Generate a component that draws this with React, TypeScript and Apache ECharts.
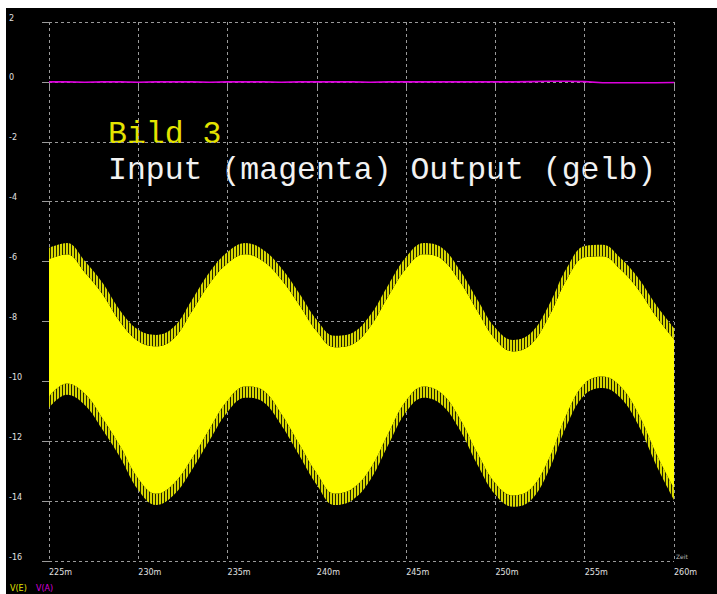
import React, { useEffect, useRef } from "react";
import * as echarts from "echarts";

// time in ms
const timeMs = [225, 226, 227, 228, 229, 230, 231, 232, 233, 234, 235, 236, 237, 238, 239, 240, 241, 242, 243, 244, 245, 246, 247, 248, 249, 250, 251, 252, 253, 254, 255, 256, 257, 258, 259, 260];
// Output (gelb): upper envelope of the fast oscillation
const outputUpper = [-5.54, -5.38, -5.98, -6.71, -7.65, -8.28, -8.45, -8.18, -7.28, -6.35, -5.68, -5.38, -5.61, -6.21, -7.05, -7.95, -8.48, -8.38, -7.78, -6.78, -5.85, -5.38, -5.54, -6.28, -7.28, -8.22, -8.62, -8.38, -7.45, -6.21, -5.48, -5.44, -5.88, -6.55, -7.45, -8.22];
// Output (gelb): lower envelope of the fast oscillation
const outputLower = [-10.89, -10.45, -10.79, -11.62, -12.56, -13.63, -14.13, -13.79, -12.96, -11.96, -11.02, -10.55, -10.69, -11.46, -12.46, -13.46, -14.13, -13.96, -13.29, -12.12, -11.02, -10.55, -10.79, -11.62, -12.79, -13.79, -14.19, -13.96, -12.96, -11.46, -10.45, -10.22, -10.55, -11.46, -12.79, -13.96];
// Input (magenta)
const inputV = [0, 0, -0.01, 0, 0, -0.01, 0, 0, 0, -0.01, 0, 0, 0, -0.01, 0, 0, 0, 0, -0.01, 0, 0, 0, 0, 0, 0, 0, 0, 0.01, 0.02, 0.02, 0.01, -0.03, -0.03, -0.03, -0.03, -0.02];

const yTicks = { min: -16, max: 2, interval: 2 };
const xTicks = { min: 225, max: 260, interval: 5 };

const HATCH = 0.38;

export default function App() {
  const ref = useRef<HTMLDivElement>(null);
  useEffect(() => {
    if (!ref.current) return;
    const chart = echarts.init(ref.current, null, { renderer: "svg" });

    const cv = document.createElement("canvas");
    cv.width = 3;
    cv.height = 1;
    const ctx = cv.getContext("2d")!;
    ctx.fillStyle = "#d8d800";
    ctx.fillRect(0, 0, 2, 1);
    ctx.fillStyle = "#222200";
    ctx.fillRect(2, 0, 1, 1);
    const hatch: any = { image: cv, repeat: "repeat", imageWidth: 3, imageHeight: 1 };

    // value first, time second (so the stack is computed on the value dimension)
    const base = timeMs.map((t, i) => [outputLower[i], t]);
    const lowHatch = timeMs.map((t) => [HATCH, t]);
    const body = timeMs.map((t, i) => [outputUpper[i] - outputLower[i] - 2 * HATCH, t]);
    const upHatch = timeMs.map((t) => [HATCH, t]);
    const input = timeMs.map((t, i) => [t, inputV[i]]);

    const common = {
      type: "line",
      stack: "out",
      stackStrategy: "all",
      encode: { x: 1, y: 0 },
      symbol: "none",
      smooth: 0.4,
      silent: true,
    };

    const gridColor = "#9a9a9a";
    const option: any = {
      animation: false,
      backgroundColor: "#000000",
      grid: { left: 41, top: 14, right: 43, bottom: 33 },
      xAxis: {
        type: "value",
        min: xTicks.min,
        max: xTicks.max,
        interval: xTicks.interval,
        axisLine: { show: false },
        axisTick: { show: true, length: 7, lineStyle: { color: gridColor } },
        splitLine: { show: true, lineStyle: { color: gridColor, type: [3, 3], width: 1 } },
        axisLabel: {
          formatter: (v: number) => v + "m",
          align: "left",
          margin: 7,
          color: "#e0e0e0",
          fontSize: 8,
          fontFamily: "DejaVu Sans",
          showMaxLabel: true,
        },
      },
      yAxis: {
        type: "value",
        min: yTicks.min,
        max: yTicks.max,
        interval: yTicks.interval,
        axisLine: { show: false },
        axisTick: { show: true, length: 7, lineStyle: { color: gridColor } },
        splitLine: { show: true, lineStyle: { color: gridColor, type: [3, 3], width: 1 } },
        axisLabel: {
          align: "left",
          verticalAlign: "bottom",
          margin: 40,
          color: "#e0e0e0",
          fontSize: 8,
          fontFamily: "DejaVu Sans",
        },
      },
      series: [
        { ...common, name: "base", data: base, lineStyle: { width: 0, color: "rgba(0,0,0,0)" } },
        { ...common, name: "lowHatch", data: lowHatch, lineStyle: { width: 0, color: "#6e6e00" }, areaStyle: { color: hatch, opacity: 1 } },
        { ...common, name: "body", data: body, lineStyle: { width: 0, color: "#ffff00" }, areaStyle: { color: "#ffff00", opacity: 1 } },
        { ...common, name: "upHatch", data: upHatch, lineStyle: { width: 0, color: "#6e6e00" }, areaStyle: { color: hatch, opacity: 1 } },
        {
          type: "line",
          name: "input",
          data: input,
          symbol: "none",
          lineStyle: { color: "#dd00dd", width: 1.6 },
          silent: true,
        },
      ],
      graphic: [
        {
          type: "text",
          left: 102,
          top: 110,
          style: { text: "Bild 3", fill: "#e4e400", font: "31.5px 'Liberation Mono'" },
        },
        {
          type: "text",
          left: 102,
          top: 146,
          style: { text: "Input (magenta) Output (gelb)", fill: "#f2f2f2", font: "31.5px 'Liberation Mono'" },
        },
        {
          type: "text",
          left: 670,
          top: 545,
          style: { text: "Zeit", fill: "#bbbbbb", font: "6px 'DejaVu Sans'" },
        },
        {
          type: "text",
          left: 4,
          top: 576,
          style: { text: "V(E)", fill: "#e6e600", font: "8px 'DejaVu Sans'" },
        },
        {
          type: "text",
          left: 30,
          top: 576,
          style: { text: "V(A)", fill: "#dd00dd", font: "8px 'DejaVu Sans'" },
        },
      ],
    };
    chart.setOption(option);
    return () => chart.dispose();
  }, []);

  return (
    <div style={{ position: "absolute", left: 0, top: 0, width: 717, height: 594, background: "#ffffff", overflow: "hidden" }}>
      <div ref={ref} style={{ position: "absolute", left: 6, top: 8, width: 711, height: 586 }} />
    </div>
  );
}
